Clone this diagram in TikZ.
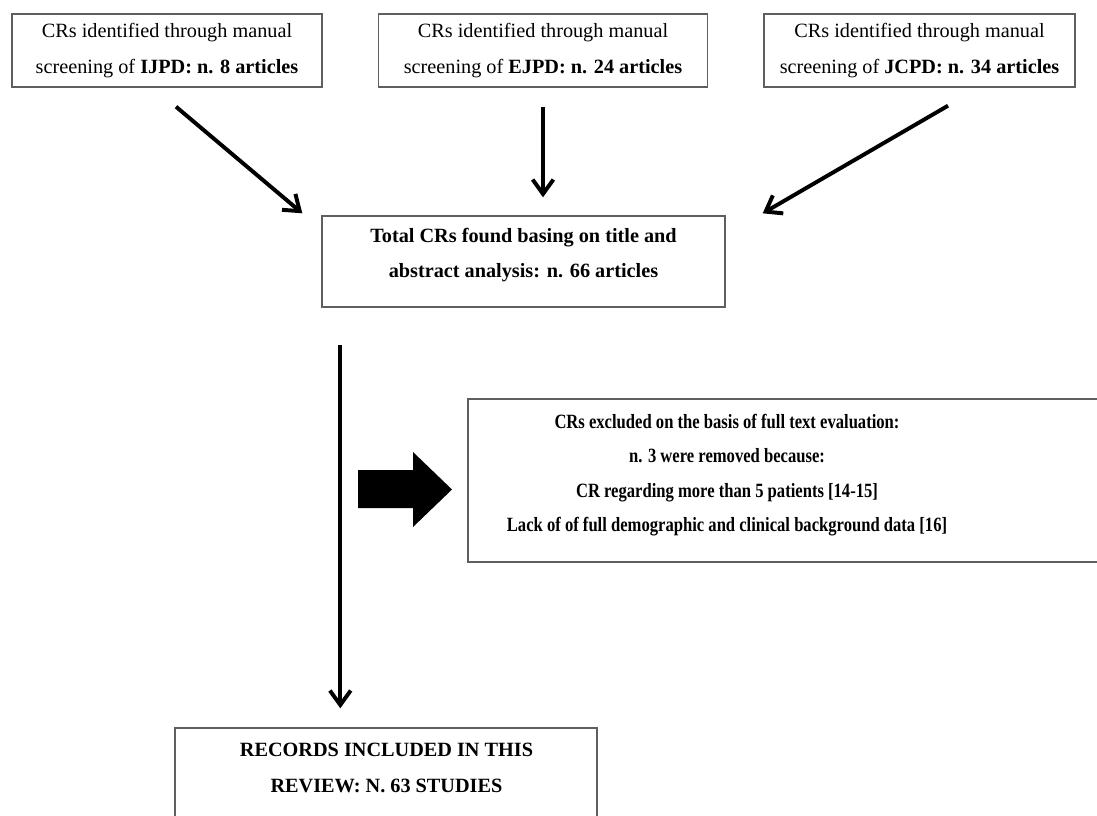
\documentclass[tikz,border=0pt]{standalone}
\usepackage{fontspec}
\setmainfont{Liberation Serif}
\newfontfamily\condserif[FakeStretch=0.82]{Liberation Serif}
\usepackage{tikz}
\usetikzlibrary{arrows.meta,calc,fit,positioning}
\definecolor{boxgray}{RGB}{95,95,95}
\tikzset{
    box/.style ={draw=boxgray, line width=1pt, align=center, inner sep=0pt,
        minimum height=1.825cm, font=\fontsize{14.4}{25}\selectfont},
    frame/.style = {draw=boxgray, line width=1pt, inner sep=0pt},
    txt/.style = {align=center, font=\fontsize{14.4}{25}\selectfont\bfseries},
    flow/.style={-{Straight Barb[length=3.6mm,width=5.2mm]}, line width=2.8pt}
}
\begin{document}
\begin{tikzpicture}[x=0.025cm,y=-0.025cm]
    \useasboundingbox (0,0) rectangle (1097,815);
    \clip (0,0) rectangle (1097,815);

    % journals
    \node[box, minimum width=7.75cm] (ijpd) at (167,50.5) {CRs identified through manual\\ screening of \textbf{IJPD: n. 8 articles}};
    \node[box, minimum width=8.225cm, right=1.375cm of ijpd] (ejpd) {CRs identified through manual\\ screening of \textbf{EJPD: n. 24 articles}};
    \node[box, minimum width=7.775cm, right=1.375cm of ejpd] (jcpd) {CRs identified through manual\\ screening of \textbf{JCPD: n. 34 articles}};

    % screening
    \node[txt] (total) at (523.5,255) {Total CRs found basing on title and\\ abstract analysis: n. 66 articles};
    \node[frame, fit={(322,216) (725,307)}] (totalbox) {};

    \node[txt, font=\fontsize{14.4}{24.6}\selectfont\condserif\bfseries] (excl) at (727,475) {CRs excluded on the basis of full text evaluation:\\ n. 3 were removed because:\\ CR regarding more than 5 patients [14-15]\\ Lack of of full demographic and clinical background data [16]};
    \node[frame, fit={(468,399) (1140,562)}] (exclbox) {};

    \node[txt] (incl) at (386.5,768) {RECORDS INCLUDED IN THIS\\ REVIEW: N. 63 STUDIES};
    \node[frame, fit={(175,728) (597,860)}] (inclbox) {};

    \draw[flow] ($(ijpd.south)+(9,19)$) -- ($(totalbox.north west)+(-19,-2)$);
    \draw[flow, shorten <=0.475cm, shorten >=0.45cm] (ejpd.south) -- (ejpd.south |- totalbox.north);
    \draw[flow] ($(jcpd.south)+(28.5,18)$) -- ($(totalbox.north east)+(37,-2)$);
    \coordinate (split) at ($(totalbox.south west)+(19,37)$);
    \draw[flow, shorten >=0.475cm] (split) -- (split |- inclbox.north);

    % block arrow
    \fill (358,470) -- (413,470) -- (413,452) -- (452,489.5) -- (413,527) -- (413,508) -- (358,508) -- cycle;
\end{tikzpicture}
\end{document}
